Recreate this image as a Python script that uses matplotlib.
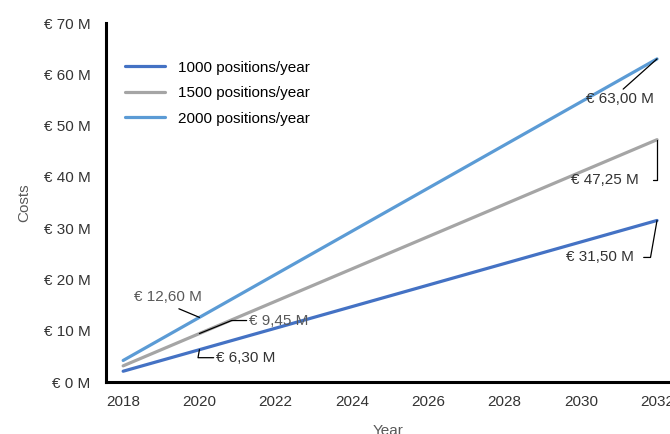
import matplotlib.pyplot as plt

plt.rcParams["font.family"] = ["Liberation Sans", "DejaVu Sans"]

years = [2018, 2019, 2020, 2021, 2022, 2023, 2024, 2025,
         2026, 2027, 2028, 2029, 2030, 2031, 2032]

costs_1000 = [2.10, 4.20, 6.30, 8.40, 10.50, 12.60, 14.70, 16.80,
              18.90, 21.00, 23.10, 25.20, 27.30, 29.40, 31.50]
costs_1500 = [3.15, 6.30, 9.45, 12.60, 15.75, 18.90, 22.05, 25.20,
              28.35, 31.50, 34.65, 37.80, 40.95, 44.10, 47.25]
costs_2000 = [4.20, 8.40, 12.60, 16.80, 21.00, 25.20, 29.40, 33.60,
              37.80, 42.00, 46.20, 50.40, 54.60, 58.80, 63.00]

series_labels = ["1000 positions/year", "1500 positions/year", "2000 positions/year"]
series_colors = ["#4472C4", "#A5A5A5", "#5B9BD5"]

y_ticks = [0, 10, 20, 30, 40, 50, 60, 70]
x_ticks = [2018, 2020, 2022, 2024, 2026, 2028, 2030, 2032]

FS = 11


def euro(v, decimals=0):
    txt = f"{v:.{decimals}f}".replace(".", ",")
    return f"€ {txt} M"


fig = plt.figure(figsize=(6.7, 4.34), dpi=100)
ax = fig.add_axes([106 / 670, 52 / 434, 564 / 670, 359 / 434])

all_series = [costs_1000, costs_1500, costs_2000]
for vals, label, color in zip(all_series, series_labels, series_colors):
    ax.plot(years, vals, color=color, lw=2.3, label=label,
            solid_capstyle="round", zorder=2)

ax.set_xlim(2017.55, 2032.34)
ax.set_ylim(0, 70)
ax.set_xticks(x_ticks)
ax.set_yticks(y_ticks)
ax.set_yticklabels([euro(v) for v in y_ticks])
ax.tick_params(length=0, labelsize=FS, colors="#333333")
ax.tick_params(axis="y", pad=11)
ax.tick_params(axis="x", pad=9.5)

for side in ["top", "right"]:
    ax.spines[side].set_visible(False)
for side in ["left", "bottom"]:
    ax.spines[side].set_linewidth(2.2)
    ax.spines[side].set_color("black")

ax.set_ylabel("Costs", color="#595959", fontsize=FS, labelpad=9)
ax.set_xlabel("Year", color="#595959", fontsize=FS, labelpad=11)

ax.legend(loc="upper left", bbox_to_anchor=(0.034, 0.895), frameon=False,
          fontsize=FS, handlelength=2.6, handletextpad=0.85,
          labelspacing=0.75, borderpad=0, borderaxespad=0)

# data labels with leader lines
lab_kw = dict(textcoords="offset pixels", fontsize=FS, va="center", zorder=5)
line_kw = dict(arrowstyle="-", color="black", lw=0.9, shrinkB=0)

i20 = years.index(2020)
i32 = years.index(2032)

ax.annotate(euro(costs_2000[i20], 2), xy=(2020, costs_2000[i20]),
            xytext=(-31, 20), ha="center", color="#595959",
            arrowprops=dict(**line_kw, relpos=(0.5, 0.0), shrinkA=3), **lab_kw)
ax.annotate(euro(costs_1500[i20], 2), xy=(2020, costs_1500[i20]),
            xytext=(50, 13), ha="left", color="#595959",
            arrowprops=dict(**line_kw, shrinkA=0,
                            connectionstyle="angle,angleA=0,angleB=22,rad=0"),
            **lab_kw)
ax.annotate(euro(costs_1000[i20], 2), xy=(2020, costs_1000[i20]),
            xytext=(17, -8), ha="left", color="#333333",
            arrowprops=dict(**line_kw, shrinkA=0,
                            connectionstyle="angle,angleA=0,angleB=80,rad=0"),
            **lab_kw)
ax.annotate(euro(costs_2000[i32], 2), xy=(2032, costs_2000[i32]),
            xytext=(-37, -40), ha="center", color="#333333",
            arrowprops=dict(**line_kw, relpos=(0.5, 1.0), shrinkA=0),
            **lab_kw)
ax.annotate(euro(costs_1500[i32], 2), xy=(2032, costs_1500[i32]),
            xytext=(-52, -40), ha="center", color="#333333",
            arrowprops=dict(**line_kw, shrinkA=8,
                            connectionstyle="angle,angleA=0,angleB=90,rad=0"),
            **lab_kw)
ax.annotate(euro(costs_1000[i32], 2), xy=(2032, costs_1000[i32]),
            xytext=(-57, -37), ha="center", color="#333333",
            arrowprops=dict(**line_kw, shrinkA=5,
                            connectionstyle="angle,angleA=0,angleB=80,rad=0"),
            **lab_kw)

fig.savefig("out.png", dpi=100)
